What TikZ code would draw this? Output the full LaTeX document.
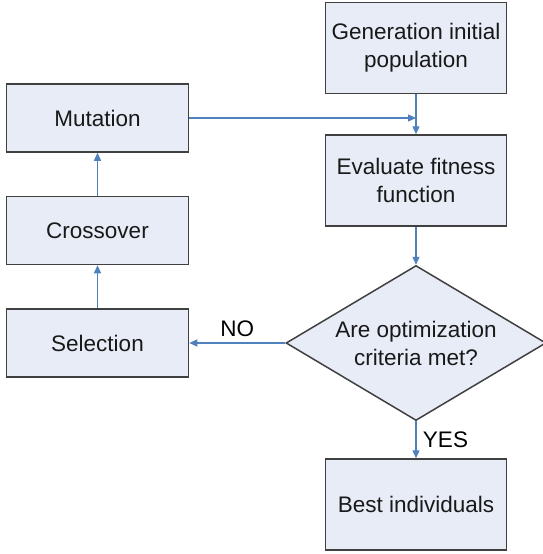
\documentclass[tikz,border=0pt]{standalone}
\usepackage{fontspec}
\setmainfont{Liberation Sans}
\usetikzlibrary{positioning,shapes.geometric,arrows.meta}
\definecolor{boxfill}{RGB}{231,236,247}
\definecolor{boxline}{RGB}{64,64,64}
\definecolor{flowblue}{RGB}{79,129,189}
\begin{document}
\begin{tikzpicture}
	[x=1pt, y=-1pt,
	font=\fontsize{22.5}{28}\selectfont,
	box/.style = {draw=boxline, fill=boxfill, line width=1.5pt, text=black!90, align=center, minimum width=181pt, minimum height=91pt, inner sep=0pt},
	sidebox/.style = {box, minimum width=182pt, minimum height=68pt},
	decision/.style = {box, diamond, aspect=1.68, minimum width=260pt, minimum height=155pt},
	arr/.style = {draw=flowblue, line width=1.3pt, -{Triangle[length=8pt,width=7pt]}}]
\useasboundingbox (0,0) rectangle (542,554);
\node[box] (gen) at (416,48) {Generation initial\\population};
\node[box] (eval) [below=40pt of gen] {Evaluate fitness\\function};
\node[decision] (dec) [below=38pt of eval] {Are optimization\\criteria met?};
\node[box] (best) [below=37pt of dec] {Best individuals};
\node[sidebox] (sel) [left=96pt of dec] {Selection};
\node[sidebox] (cross) [above=43pt of sel] {Crossover};
\node[sidebox] (mut) [above=43pt of cross] {Mutation};
\coordinate (merge) at (mut.east -| gen.south);
\draw[arr] (gen) -- (eval);
\draw[arr] (eval) -- (dec);
\draw[arr] (dec) -- node[right, xshift=3pt] {YES} (best);
\draw[arr] (dec) -- node[above, yshift=2pt] {NO} (sel);
\draw[arr] (sel) -- (cross);
\draw[arr] (cross) -- (mut);
\draw[arr] (mut) -- (merge);
\end{tikzpicture}
\end{document}
